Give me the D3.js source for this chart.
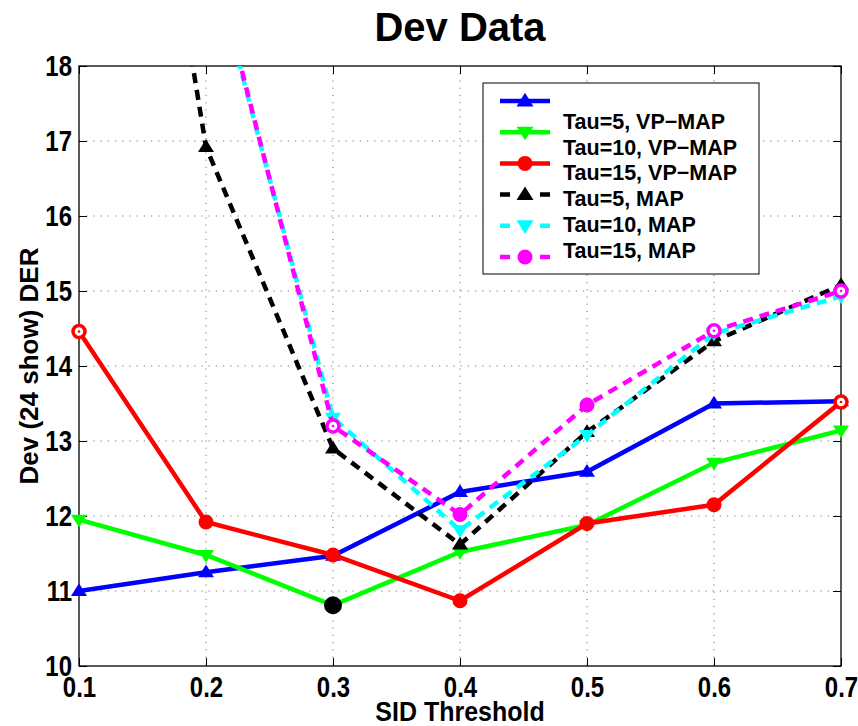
<!DOCTYPE html>
<html>
<head>
<meta charset="utf-8">
<script src="https://cdn.jsdelivr.net/npm/d3@7"></script>
<style>
  body { margin: 0; background: #fff; }
  svg { display: block; }
  text { font-family: "Liberation Sans", Arial, sans-serif; font-weight: bold; fill: #000; }
</style>
</head>
<body>
<svg id="chart" width="858" height="726"></svg>
<script>
// ====================================
// Données
// ====================================
const thresholds = [0.1, 0.2, 0.3, 0.4, 0.5, 0.6, 0.7];
const xTicks = [0.1, 0.2, 0.3, 0.4, 0.5, 0.6, 0.7];
const yTicks = [10, 11, 12, 13, 14, 15, 16, 17, 18];

const tau5VP   = [11.00, 11.25, 11.47, 12.32, 12.59, 13.50, 13.53];
const tau10VP  = [11.95, 11.48, 10.81, 11.52, 11.88, 12.71, 13.14];
const tau15VP  = [14.46, 11.92, 11.48, 10.87, 11.90, 12.15, 13.52];
const tau5MAP  = [27.3, 16.92, 12.90, 11.62, 13.12, 14.33, 15.08];
const tau10MAP = [25.5, 19.70, 13.31, 11.81, 13.08, 14.43, 14.93];
const tau15MAP = [25.8, 19.80, 13.20, 12.02, 13.48, 14.47, 15.00];

const legendLabels = ["Tau=5, VP\u2212MAP", "Tau=10, VP\u2212MAP", "Tau=15, VP\u2212MAP",
                      "Tau=5, MAP", "Tau=10, MAP", "Tau=15, MAP"];

// point mis en évidence (minimum)
const bestPoint = { x: 0.3, y: 10.81 };

// ====================================
// Style des séries
// ====================================
const series = [
    { values: tau5VP,   color: "#0000ff", marker: "up",     dash: null, hollow: [] },
    { values: tau10VP,  color: "#00ff00", marker: "down",   dash: null, hollow: [] },
    { values: tau15VP,  color: "#ff0000", marker: "circle", dash: null, hollow: [0, 6] },
    { values: tau5MAP,  color: "#000000", marker: "up",     dash: "10,7", hollow: [] },
    { values: tau10MAP, color: "#00ffff", marker: "down",   dash: "10,7", hollow: [] },
    { values: tau15MAP, color: "#ff00ff", marker: "circle", dash: "10,7", hollow: [2, 5, 6] }
];

const margin = { left: 79, top: 66, right: 17, bottom: 60 };
const width = 858 - margin.left - margin.right;
const height = 726 - margin.top - margin.bottom;
const stretch = 1.2; // texte des graduations un peu étiré en hauteur

const svg = d3.select("#chart");

const x = d3.scaleLinear().domain([0.1, 0.7]).range([0, width]);
const y = d3.scaleLinear().domain([10, 18]).range([height, 0]);

svg.append("defs").append("clipPath").attr("id", "plotClip")
    .append("rect").attr("width", width).attr("height", height);

const g = svg.append("g").attr("transform", `translate(${margin.left},${margin.top})`);

// ====================================
// Grille pointillée
// ====================================
g.append("g").selectAll("line.gx")
    .data(xTicks.slice(1, -1))
    .join("line")
    .attr("x1", d => x(d)).attr("x2", d => x(d))
    .attr("y1", 0).attr("y2", height)
    .attr("stroke", "#555").attr("stroke-width", 0.8)
    .attr("stroke-dasharray", "1.2,6");

g.append("g").selectAll("line.gy")
    .data(yTicks.slice(1, -1))
    .join("line")
    .attr("x1", 0).attr("x2", width)
    .attr("y1", d => y(d)).attr("y2", d => y(d))
    .attr("stroke", "#555").attr("stroke-width", 0.8)
    .attr("stroke-dasharray", "1.2,6");

// ====================================
// Axes (ticks vers l'intérieur sur les 4 côtés)
// ====================================
const tickLen = 8;
const axisStyle = sel => {
    sel.select(".domain").remove();
    sel.selectAll(".tick line").attr("stroke", "#000").attr("stroke-width", 1);
    sel.selectAll("text")
        .style("font-size", "24px")
        .style("font-family", "'Liberation Sans', Arial, sans-serif")
        .style("font-weight", "bold")
        .attr("fill", "#000")
        .attr("y", function() { return (+d3.select(this).attr("y") || 0) / stretch; })
        .attr("transform", `scale(1,${stretch})`);
};

g.append("g")
    .attr("transform", `translate(0,${height})`)
    .call(d3.axisBottom(x).tickValues(xTicks).tickFormat(d3.format(".1f"))
        .tickSizeInner(-tickLen).tickSizeOuter(0).tickPadding(11))
    .call(axisStyle);

g.append("g")
    .call(d3.axisTop(x).tickValues(xTicks).tickFormat("")
        .tickSizeInner(-tickLen).tickSizeOuter(0))
    .call(axisStyle);

g.append("g")
    .call(d3.axisLeft(y).tickValues(yTicks).tickFormat(d3.format("d"))
        .tickSizeInner(-tickLen).tickSizeOuter(0).tickPadding(7))
    .call(axisStyle);

g.append("g")
    .attr("transform", `translate(${width},0)`)
    .call(d3.axisRight(y).tickValues(yTicks).tickFormat("")
        .tickSizeInner(-tickLen).tickSizeOuter(0))
    .call(axisStyle);

g.append("rect")
    .attr("width", width).attr("height", height)
    .attr("fill", "none").attr("stroke", "#000").attr("stroke-width", 1.3);

// ====================================
// Marqueurs
// ====================================
function drawMarker(sel, type, color, hollow, size) {
    const s = size || 8;
    if (type === "circle") {
        if (hollow) {
            sel.append("circle").attr("r", 6).attr("fill", "#fff")
                .attr("stroke", color).attr("stroke-width", 3.5);
            sel.append("circle").attr("r", 1.3).attr("fill", color);
        } else {
            sel.append("circle").attr("r", 7.5).attr("fill", color);
        }
    } else {
        const h = s * 1.6;
        const pts = type === "up"
            ? [[0, -h * 0.6], [s, h * 0.4], [-s, h * 0.4]]
            : [[0, h * 0.6], [s, -h * 0.4], [-s, -h * 0.4]];
        sel.append("path")
            .attr("d", d3.line()(pts) + "Z")
            .attr("fill", color);
    }
}

// ====================================
// Courbes
// ====================================
const line = d3.line()
    .x((d, i) => x(thresholds[i]))
    .y(d => y(d));

const plot = g.append("g");

series.forEach(s => {
    plot.append("path")
        .datum(s.values)
        .attr("clip-path", "url(#plotClip)")
        .attr("fill", "none")
        .attr("stroke", s.color)
        .attr("stroke-width", 4.5)
        .attr("stroke-dasharray", s.dash)
        .attr("d", line);

    s.values.forEach((v, i) => {
        if (v > 18) return;
        const m = plot.append("g")
            .attr("transform", `translate(${x(thresholds[i])},${y(v)})`);
        drawMarker(m, s.marker, s.color, s.hollow.includes(i));
    });
});

// point noir
plot.append("circle")
    .attr("cx", x(bestPoint.x)).attr("cy", y(bestPoint.y))
    .attr("r", 9).attr("fill", "#000");

// ====================================
// Légende
// ====================================
const legend = svg.append("g").attr("transform", "translate(483,83)");
legend.append("rect")
    .attr("width", 276).attr("height", 191)
    .attr("fill", "#fff").attr("stroke", "#000").attr("stroke-width", 1);

series.forEach((s, i) => {
    const ly = 18 + i * 31.2;
    legend.append("line")
        .attr("x1", 17).attr("x2", 67)
        .attr("y1", ly).attr("y2", ly)
        .attr("stroke", s.color).attr("stroke-width", 4.5)
        .attr("stroke-dasharray", s.dash ? "10,30,10" : null);
    const m = legend.append("g").attr("transform", `translate(42,${ly})`);
    drawMarker(m, s.marker, s.color, false, 8.5);

    legend.append("text")
        .attr("x", 80)
        .attr("y", 38 + i * 25.8)
        .attr("dy", "0.36em")
        .style("font-size", "21.5px")
        .text(legendLabels[i]);
});

// ====================================
// Titres
// ====================================
svg.append("text")
    .attr("x", margin.left + width / 2)
    .attr("y", 41)
    .attr("text-anchor", "middle")
    .style("font-size", "40px")
    .text("Dev Data");

svg.append("text")
    .attr("transform", `translate(${margin.left + width / 2},721) scale(1,1.1)`)
    .attr("text-anchor", "middle")
    .style("font-size", "25px")
    .text("SID Threshold");

svg.append("text")
    .attr("transform", `translate(38,${margin.top + height / 2}) rotate(-90)`)
    .attr("text-anchor", "middle")
    .style("font-size", "26px")
    .text("Dev (24 show) DER");
</script>
</body>
</html>
